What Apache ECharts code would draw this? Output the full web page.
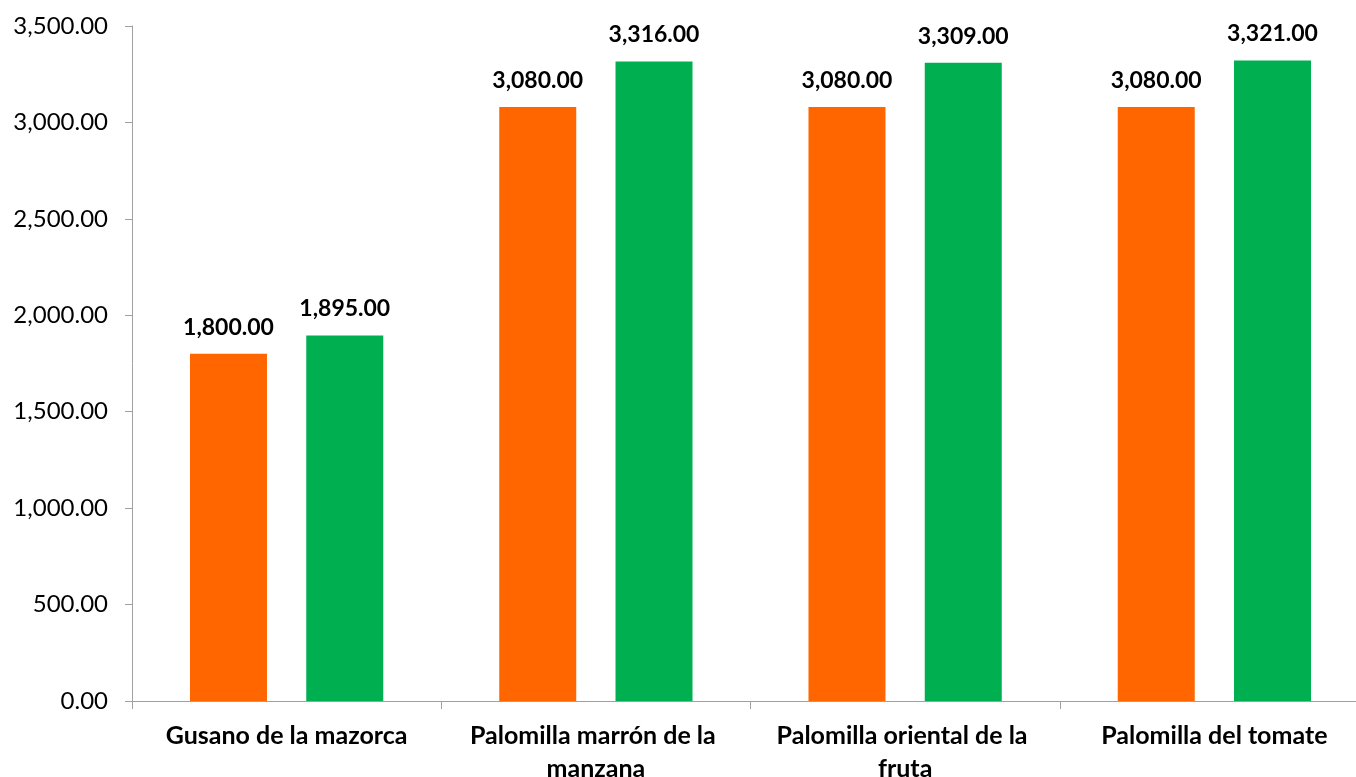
<!DOCTYPE html>
<html>
<head>
<meta charset="utf-8">
<script src="https://cdn.jsdelivr.net/npm/echarts@6/dist/echarts.min.js"></script>
<style>
html,body{margin:0;padding:0;background:#fff;overflow:hidden;}
#c{width:1369px;height:777px;}
</style>
</head>
<body>
<div id="c"></div>
<script>
const categories = ["Gusano de la mazorca", "Palomilla marrón de la manzana", "Palomilla oriental de la fruta", "Palomilla del tomate"];
const seriesOrange = [1800, 3080, 3080, 3080];
const seriesGreen = [1895, 3316, 3309, 3321];
const yMin = 0, yMax = 3500, yInterval = 500;

const fmt = v => Number(v).toLocaleString('en-US', {minimumFractionDigits: 2, maximumFractionDigits: 2});
const FONT = 'Lato';

const chart = echarts.init(document.getElementById('c'));
const labelCfg = {
  show: true, position: 'top', distance: 15,
  formatter: p => fmt(p.value),
  fontFamily: FONT, fontWeight: 'bold', fontSize: 23, color: '#000'
};
chart.setOption({
  animation: false,
  backgroundColor: '#fff',
  grid: {left: 132, right: 0, top: 26, bottom: 76, containLabel: false, outerBoundsMode: 'none'},
  xAxis: {
    type: 'category', data: categories,
    axisLine: {lineStyle: {color: '#A0A0A0', width: 1}},
    axisTick: {show: true, length: 8, lineStyle: {color: '#A0A0A0'}},
    axisLabel: {
      interval: 0, margin: 18, fontFamily: FONT, fontWeight: 'bold', fontSize: 25,
      color: '#000', width: 290, overflow: 'break', lineHeight: 33
    }
  },
  yAxis: {
    type: 'value', min: yMin, max: yMax, interval: yInterval,
    axisLine: {show: true, lineStyle: {color: '#A0A0A0', width: 1}},
    axisTick: {show: true, length: 7, inside: false, lineStyle: {color: '#A0A0A0'}},
    splitLine: {show: false},
    axisLabel: {formatter: v => fmt(v), margin: 24, fontFamily: FONT, fontSize: 24, color: '#000'}
  },
  series: [
    {type: 'bar', data: seriesOrange, barWidth: 77, barGap: '51%', itemStyle: {color: '#FF6600'}, label: labelCfg},
    {type: 'bar', data: seriesGreen, barWidth: 77, barGap: '51%', itemStyle: {color: '#00B050'}, label: labelCfg}
  ]
});
</script>
</body>
</html>
